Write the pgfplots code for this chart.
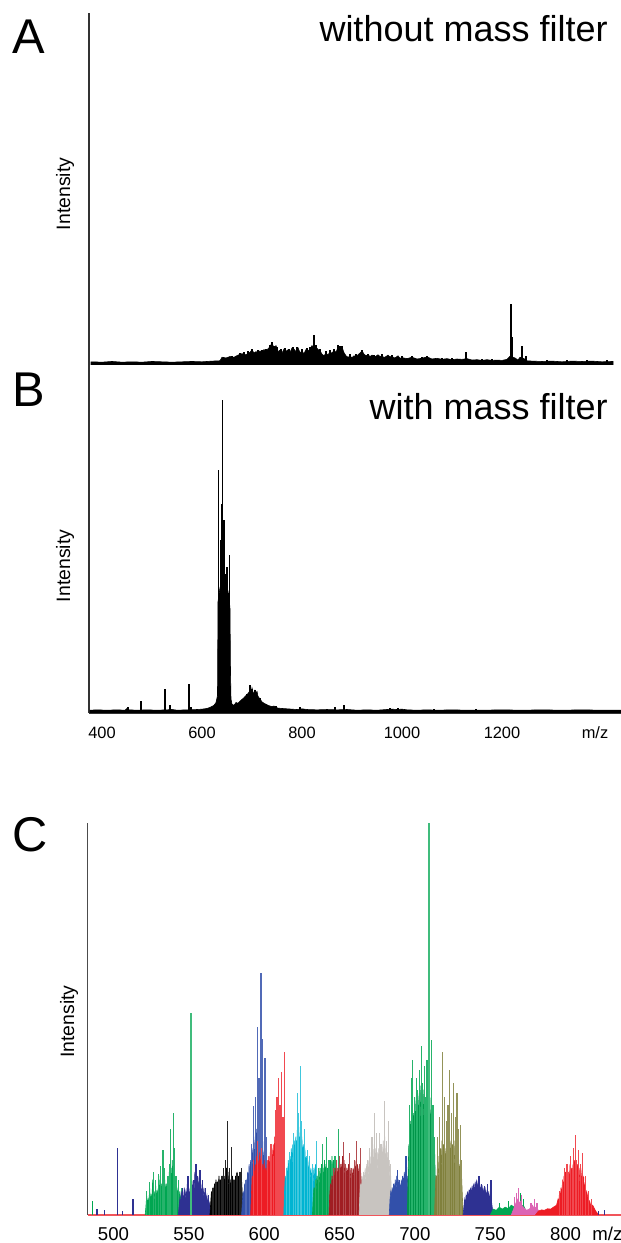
\documentclass[border=0pt]{standalone}
\usepackage{fontspec}
\setmainfont{Liberation Sans}
\usepackage{pgfplots}
\pgfplotsset{compat=1.18}
\definecolor{cnavy}{RGB}{46,49,146}
\definecolor{cblue}{RGB}{50,80,170}
\definecolor{cgreen}{RGB}{0,166,81}
\definecolor{cred}{RGB}{237,28,36}
\definecolor{ccyan}{RGB}{0,180,210}
\definecolor{cdred}{RGB}{160,30,35}
\definecolor{cgray}{RGB}{200,196,192}
\definecolor{colive}{RGB}{128,128,60}
\definecolor{cpink}{RGB}{220,100,180}
\pgfplotsset{
  spk/.style={ycomb, mark=none, line width=0.6pt},
  env/.style={mark=none, line width=0.3pt},
}
\begin{document}
\begin{tikzpicture}
\path[use as bounding box] (0,0) rectangle (310.5pt,621.5pt);
% ---------------- Panel A ----------------
\begin{axis}[at={(44.5pt,439pt)}, anchor=south west, scale only axis,
  width=266pt, height=176pt, xmin=374, xmax=1438, ymin=0, ymax=100,
  axis x line=none, axis y line=left,
  axis line style={-, line width=0.7pt, black!80},
  xtick=\empty, ytick=\empty, clip=true]
\addplot[env, fill=black, draw=black] coordinates {
(378,0.9)(400,0.8)(420,1.0)(440,0.8)(460,0.9)(480,0.8)(500,1.0)(520,0.9)(540,0.8)(560,0.9)(580,1.0)(600,0.9)(620,1.1)(636,1.2)
(640,2.2)(648,2.0)(656,2.4)(664,2.2)(672,2.8)(680,3.2)(688,2.9)(696,3.6)(700,4.3)(704,3.4)(708,3.8)(712,3.2)(716,4.0)(720,3.6)
(724,4.4)(728,3.8)(732,4.6)(736,5.2)(740,6.3)(744,4.8)(748,5.5)(752,3.8)(756,4.2)(760,3.4)(764,4.5)(768,3.9)(772,4.3)(776,3.6)
(780,4.8)(784,4.5)(788,3.8)(792,4.9)(796,3.5)(800,3.9)(804,3.2)(808,4.4)(812,3.9)(816,4.6)(820,5.5)(824,4.8)(828,5.1)(832,4.4)
(836,4.0)(840,3.1)(844,2.6)(848,3.4)(852,2.8)(856,3.8)(860,3.3)(864,4.2)(868,3.6)(872,5.0)(876,4.6)(880,5.1)(884,3.5)(888,2.6)
(892,2.2)(896,2.5)(900,2.1)(904,2.6)(908,2.3)(912,2.9)(916,3.4)(920,4.0)(924,3.1)(928,2.6)(932,2.9)(936,2.4)(940,2.8)(944,2.2)
(948,2.5)(952,2.9)(956,2.4)(960,2.6)(964,2.1)(968,2.4)(972,2.8)(976,2.3)(980,2.5)(984,2.0)(988,2.2)(992,2.6)(996,1.9)(1000,2.1)
(1010,1.8)(1020,2.2)(1030,1.7)(1040,1.9)(1050,2.3)(1060,1.7)(1070,1.9)(1080,1.6)(1090,1.8)(1100,1.5)(1110,1.7)(1120,1.6)(1130,1.8)
(1140,1.4)(1150,1.5)(1160,1.3)(1170,1.5)(1180,1.3)(1190,1.4)(1200,1.3)(1210,1.6)(1216,2.5)(1226,2.0)(1232,1.4)(1236,2.2)(1244,1.8)
(1250,1.2)(1260,1.1)(1280,1.0)(1300,1.1)(1320,0.9)(1340,1.1)(1360,1.0)(1380,1.1)(1400,0.9)(1422,1.0)} \closedcycle;
\addplot[spk, black] coordinates {
(1218,17.3)(1220,8)(1240,5.4)(1248,2.6)(1128,3.7)(824,8.5)(740,6.5)(744,5.5)(782,5.2)(828,5.6)(872,5.6)(876,5.3)(700,4.6)(920,4.3)(1050,2.6)
(660,2.6)(676,3.4)(684,3.8)(692,4.0)(712,4.2)(720,4.4)(728,4.6)(736,5.6)(750,5.0)(758,4.6)(766,4.8)(774,4.5)(790,5.0)(800,4.6)
(810,4.8)(816,5.0)(836,4.6)(848,4.0)(856,4.4)(864,4.6)(880,5.5)(896,3.0)(908,3.0)(932,3.2)(944,2.8)(960,3.0)(980,2.8)(1000,2.5)
(1020,2.6)(1040,2.3)(1080,2.1)(1100,2.0)(1160,1.8)(1180,1.7)(1290,1.4)(1330,1.5)(1370,1.4)(1410,1.3)};
\end{axis}
% ---------------- Panel B ----------------
\begin{axis}[at={(44.5pt,265pt)}, anchor=south west, scale only axis,
  width=266pt, height=174pt, xmin=374, xmax=1438, ymin=0, ymax=100,
  axis x line=bottom, axis y line=left,
  axis line style={-, line width=0.7pt, black!80},
  ytick=\empty, major tick length=0pt,
  xtick={400,600,800,1000,1200,1386},
  xticklabels={400,600,800,1000,1200,m/z},
  xticklabel style={font=\fontsize{8.2}{10}\selectfont, anchor=base, yshift=-13pt},
  clip=true]
\addplot[env, fill=black, draw=black] coordinates {
(376,0.8)(390,0.9)(410,0.8)(430,0.9)(446,0.8)(450,1.3)(454,0.9)(470,0.8)(490,0.9)(510,0.8)(530,0.9)(540,1.0)(550,0.8)(570,0.9)
(590,1.0)(600,1.1)(610,1.3)(616,1.6)(620,1.9)(624,2.2)(628,3.0)(631,5)(632,32)(634,34)(636,36)(638,37)(640,38)(642,38)(644,38)
(646,37)(648,37)(650,36)(652,35)(654,33)(656,30)(657,11.5)(658,4)(660,2.5)(664,2.2)(668,3)(672,2.8)(676,3.4)(680,3.9)(684,4.4)
(688,5.0)(692,5.6)(694,6.0)(696,6.4)(698,5.5)(700,7.2)(702,6.0)(704,5.6)(706,6.5)(708,5.8)(710,6.2)(712,4.8)(716,4.0)(720,3.2)
(724,2.8)(728,2.5)(732,2.2)(736,2.0)(740,1.8)(744,2.0)(748,1.6)(752,1.4)(760,1.3)(770,1.2)(780,1.1)(790,1.0)(800,1.2)(810,1.0)
(830,0.9)(850,1.0)(870,0.9)(890,1.0)(910,0.8)(930,0.9)(950,0.8)(970,1.0)(980,1.1)(990,1.0)(1000,1.1)(1010,0.9)(1030,0.8)(1050,0.9)
(1070,0.8)(1100,0.9)(1130,0.8)(1160,0.8)(1200,0.9)(1240,0.8)(1280,0.9)(1320,0.8)(1360,0.9)(1400,0.8)(1438,0.8)} \closedcycle;
\addplot[spk, black] coordinates {
(452,1.8)(478,3.5)(526,7)(536,2.2)(574,8.4)(578,1.6)(633.3,69.8)(637.3,49.7)(639.3,60)(641.3,90)(644,55.5)(648,40)(650,42)
(653,34.5)(655.3,45.4)(690,5.5)(696,8)(700,6.8)(706,6.6)(716,4.2)(748,2.0)(796,1.8)(866,1.6)(884,2.3)(976,1.4)(992,1.4)(1064,1.1)(1148,1.1)};
\end{axis}
% ---------------- Panel C ----------------
\begin{axis}[at={(43.75pt,14pt)}, anchor=south west, scale only axis,
  width=266.75pt, height=196pt, xmin=482.75, xmax=836.8, ymin=0, ymax=100,
  axis x line=bottom, axis y line=left,
  x axis line style={-, line width=1pt, cred!75},
  y axis line style={-, line width=0.7pt, black!70},
  ytick=\empty, major tick length=0pt,
  xtick={500,550,600,650,700,750,800,827.8},
  xticklabels={500,550,600,650,700,750,800,m/z},
  xticklabel style={font=\fontsize{9.3}{11}\selectfont, anchor=base, yshift=-12.9pt},
  clip=true]
% near 500
\addplot[spk, cnavy] coordinates {(489,1.5)(494,1.2)(502.6,17)(506,1)(513,4)};
\addplot[spk, cgreen] coordinates {(486,3.5)};
% green 1
\addplot[env, fill=cgreen, draw=cgreen] coordinates {(521,0)(521.5,2)(522,5)(522.5,2.5)(523,4)(523.5,3)(524,7)(524.5,3.5)(525,5)(525.5,4)(526,9)(526.5,4)(527,6)(527.5,3.5)(528,7.5)(528.5,4)(529,6)(529.5,5)(530,9)(530.5,5)(531,10)(531.5,5.5)(532,8)(532.5,6)(533,12)(533.5,6)(534,9)(534.5,5)(535,8)(535.5,6)(536,9)(536.5,6)(537,11)(537.5,7)(538,12)(538.5,7)(539,14)(539.5,8)(540,11)(540.5,6)(541,8)(541.5,5)(542,7)(542.5,4.5)(543,7)(543.5,4)(544,6)(544.5,3.5)(545,5)(546,3)(546.5,4)(547,2.5)(548,3)(549,0)} \closedcycle;
\addplot[spk, cgreen!85] coordinates {(522,6)(524,8.5)(526.4,11)(528,9)(530,10.5)(531,12.5)(532.8,16.6)(534,12)(536.2,10)(537,13)(538,22)(539.7,26)(540.5,17)(541.5,10)(543,9)(545,7)(547,6)};
% navy 1
\addplot[env, fill=cnavy, draw=cnavy] coordinates {(543,0)(543.5,2)(544,4)(544.5,3)(545,6)(545.5,3.5)(546,5)(546.5,4)(547,7)(547.5,4)(548,6)(548.5,5)(549,8)(549.5,4.5)(550,7)(550.5,5)(551,6)(551.5,5)(552,9)(552.5,6)(553,8)(553.5,6)(554,11)(554.5,6)(555,9)(555.5,6.5)(556,10)(556.5,6)(557,9)(557.5,5.5)(558,8)(558.5,5)(559,7)(559.5,4.5)(560,7)(560.5,4)(561,6)(561.5,3.5)(562,5)(562.5,3)(563,4)(564,2.5)(565,0)} \closedcycle;
\addplot[spk, cnavy] coordinates {(546,7)(549.4,10)(551.3,33)(553,9)(554.7,13)(556,10)(557.4,11.5)(559,9)(561,7)(563,5)};
\addplot[ycomb, mark=none, line width=0.9pt, cgreen!75] coordinates {(551.6,51.5)};
% black
\addplot[env, fill=black, draw=black] coordinates {(564,0)(564.5,3)(565,6)(565.5,4)(566,7)(566.5,5)(567,8)(567.5,6)(568,9)(568.5,6)(569,8.5)(569.5,6.5)(570,10)(570.5,7)(571,9)(571.5,6.5)(572,10)(572.5,7)(573,11)(573.5,7)(574,10)(574.5,7.5)(575,12)(575.5,7)(576,11)(576.5,7)(577,10)(577.5,6.5)(578,9)(578.5,7)(579,10)(579.5,6.5)(580,9)(580.5,7)(581,10)(581.5,7.5)(582,11)(582.5,7)(583,10)(583.5,8)(584,11)(584.5,7)(585,9)(585.5,5)(586,0)} \closedcycle;
\addplot[spk, black!85] coordinates {(566,7)(568,8.5)(570,9)(572,10)(573.2,12)(574.5,14)(575.9,24)(577,12)(578.5,17.4)(580,9)(582,10.6)(584,11)(585,12)};
% royal blue
\addplot[env, fill=cblue, draw=cblue] coordinates {(585,0)(585.5,3)(586,6)(586.5,4)(587,8)(587.5,5)(588,9)(588.5,7)(589,11)(589.5,8)(590,13)(590.5,9)(591,14)(591.5,11)(592,17)(592.5,12)(593,19)(593.5,13)(594,20)(594.5,14)(595,22)(595.5,15)(596,24)(596.5,16)(597,22)(597.5,15)(598,21)(598.5,14)(599,19)(599.5,12)(600,16)(600.5,10)(601,12)(601.5,7)(602,8)(602.5,4)(603,0)} \closedcycle;
\addplot[spk, cblue!85] coordinates {(588,9)(590,12)(591.5,18)(593,27.7)(594.5,30)(595.7,48)(596.6,35)(597.9,61.7)(599,45)(600.5,40)(601.5,20)};
% red 1
\addplot[env, fill=cred, draw=cred] coordinates {(591,0)(591.5,5)(592,10)(592.5,8)(593,12)(593.5,9)(594,13)(594.5,10)(595,15)(595.5,11)(596,14)(596.5,10)(597,16)(597.5,11)(598,15)(598.5,10)(599,13)(599.5,9)(600,14)(600.5,10)(601,12)(601.5,9)(602,14)(602.5,10)(603,15)(603.5,11)(604,16)(604.5,12)(605,17)(605.5,12)(606,18)(606.5,13)(607,20)(607.5,14)(608,22)(608.5,15)(609,24)(609.5,16)(610,25)(610.5,17)(611,23)(611.5,16)(612,21)(612.5,14)(613,18)(613.5,10)(614,0)} \closedcycle;
\addplot[spk, cred!80] coordinates {(593,14)(595.7,19)(598,17)(602,13)(604.5,18)(606,15)(607.6,26.8)(608.5,30)(609.7,35)(610.5,28)(611.6,36.6)(612.5,25)(613.5,41.7)};
% cyan
\addplot[env, fill=ccyan, draw=ccyan] coordinates {(613,0)(613.5,6)(614,10)(614.5,8)(615,12)(615.5,9)(616,14)(616.5,10)(617,15)(617.5,11)(618,17)(618.5,12)(619,18)(619.5,13)(620,19)(620.5,13)(621,20)(621.5,14)(622,22)(622.5,15)(623,21)(623.5,15)(624,23)(624.5,15)(625,20)(625.5,14)(626,18)(626.5,13)(627,17)(627.5,12)(628,15)(628.5,11)(629,14)(629.5,10)(630,13)(630.5,9)(631,12)(631.5,9)(632,11)(632.5,8)(633,12)(633.5,8)(634,13)(634.5,8)(635,10)(636,0)} \closedcycle;
\addplot[spk, ccyan!75] coordinates {(615,12)(617,16)(619.5,21)(621,19)(622.2,31)(623,26)(624.3,38)(625,24)(626.5,22)(628.8,16.6)(630,15)(632,13)(634.9,19)};
% green 2
\addplot[env, fill=cgreen, draw=cgreen] coordinates {(632,0)(632.5,4)(633,7)(633.5,5)(634,9)(634.5,6)(635,10)(635.5,7)(636,11)(636.5,7.5)(637,12)(637.5,8)(638,13)(638.5,8)(639,12)(639.5,8.5)(640,14)(640.5,9)(641,13)(641.5,9)(642,12)(642.5,9)(643,13)(643.5,9.5)(644,14)(644.5,10)(645,15)(645.5,10)(646,14)(646.5,10)(647,13)(647.5,9)(648,12)(648.5,8)(649,11)(649.5,8)(650,9)(651,0)} \closedcycle;
\addplot[spk, cgreen!85] coordinates {(634,9)(636,12)(638.6,18)(641.2,20)(643,14)(645,13)(647,15)(649.4,22)(650.5,12)};
% dark red
\addplot[env, fill=cdred, draw=cdred] coordinates {(643,0)(643.5,5)(644,8)(644.5,6)(645,10)(645.5,7)(646,11)(646.5,8)(647,12)(647.5,9)(648,13)(648.5,9)(649,12)(649.5,10)(650,14)(650.5,10)(651,13)(651.5,10)(652,15)(652.5,11)(653,14)(653.5,10)(654,13)(654.5,9.5)(655,12)(655.5,9)(656,13)(656.5,9.5)(657,12)(657.5,9)(658,11)(658.5,9)(659,12)(659.5,9.5)(660,13)(660.5,10)(661,14)(661.5,10)(662,13)(662.5,9)(663,12)(663.5,8)(664,11)(665,6)(666,0)} \closedcycle;
\addplot[spk, cdred!80] coordinates {(646,12)(648,14)(650,15)(652.6,18.7)(654,13)(656.6,15.7)(658,12)(660,14)(661.3,19)(663,13)(664,17)};
% gray
\addplot[env, fill=cgray, draw=cgray] coordinates {(663,0)(663.5,5)(664,8)(664.5,6)(665,10)(665.5,7)(666,11)(666.5,8)(667,12)(667.5,8.5)(668,13)(668.5,9)(669,14)(669.5,9.5)(670,15)(670.5,10)(671,16)(671.5,10)(672,17)(672.5,11)(673,18)(673.5,11)(674,17)(674.5,11)(675,16)(675.5,10.5)(676,17)(676.5,11)(677,16)(677.5,11)(678,18)(678.5,12)(679,19)(679.5,12)(680,20)(680.5,12)(681,17)(681.5,11)(682,16)(682.5,10)(683,14)(683.5,8)(684,10)(685,0)} \closedcycle;
\addplot[spk, cgray] coordinates {(666,11)(668.5,14)(670,17)(671.5,20)(673,26)(674.5,21)(676.4,21)(677.5,18)(679.8,29)(681,19)(682.5,24)(684,13)};
% navy 2
\addplot[env, fill=cblue, draw=cblue] coordinates {(683,0)(683.5,4)(684,6)(684.5,5)(685,7)(685.5,5)(686,8)(686.5,6)(687,9)(687.5,6)(688,10)(688.5,6.5)(689,9)(689.5,6)(690,8)(690.5,6)(691,9)(691.5,7)(692,10)(692.5,7)(693,11)(693.5,8)(694,12)(694.5,8)(695,10)(696,0)} \closedcycle;
\addplot[spk, cblue] coordinates {(686,8)(688.3,11.5)(690,9)(692,10)(694.1,15)};
% green 3
\addplot[env, fill=cgreen!90!black, draw=cgreen!90!black] coordinates {(695,0)(695.5,10)(696,18)(696.5,14)(697,24)(697.5,18)(698,28)(698.5,20)(699,26)(699.5,21)(700,30)(700.5,22)(701,29)(701.5,23)(702,31)(702.5,24)(703,30)(703.5,24)(704,33)(704.5,25)(705,31)(705.5,24)(706,32)(706.5,25)(707,30)(707.5,24)(708,31)(708.5,23)(709,29)(709.5,22)(710,30)(710.5,21)(711,27)(711.5,19)(712,24)(712.5,16)(713,18)(713.5,10)(714,0)} \closedcycle;
\addplot[spk, cgreen!85] coordinates {(696.5,28)(697.5,35)(698.4,39.6)(699.5,30)(701,35)(702,32)(703,37)(704.2,43)(705,33.6)(706.3,38)(707,30)(708.1,39.6)(710.8,44.7)(712,28)(713,20)};
\addplot[ycomb, mark=none, line width=0.9pt, cgreen!75] coordinates {(709.5,100)};
% olive
\addplot[env, fill=colive, draw=colive] coordinates {(713,0)(713.5,6)(714,10)(714.5,8)(715,13)(715.5,9)(716,15)(716.5,10)(717,17)(717.5,11)(718,19)(718.5,12)(719,18)(719.5,12)(720,17)(720.5,12)(721,18)(721.5,13)(722,19)(722.5,13)(723,20)(723.5,13)(724,19)(724.5,13)(725,18)(725.5,12)(726,19)(726.5,12)(727,17)(727.5,11)(728,16)(728.5,11)(729,15)(729.5,10)(730,13)(730.5,9)(731,10)(732,0)} \closedcycle;
\addplot[spk, colive!85] coordinates {(715,20)(716.5,25)(718.2,41.7)(719.5,30)(721,24)(722,28)(723.2,37)(724.5,26)(725.9,33.6)(727,25)(728,31)(729,22)(730.1,23)(731,14)};
% navy 3
\addplot[env, fill=cnavy, draw=cnavy] coordinates {(732,0)(732.5,2)(733,4)(733.5,3)(734,5)(734.5,3.5)(735,6)(735.5,4)(736,6.5)(736.5,4.5)(737,7)(737.5,5)(738,7.5)(738.5,5)(739,8)(739.5,5.5)(740,8.5)(740.5,6)(741,9)(741.5,6)(742,8.5)(742.5,6)(743,8)(743.5,5.5)(744,7.5)(744.5,5.5)(745,7)(745.5,5)(746,7)(746.5,5)(747,6.5)(747.5,4.5)(748,6)(748.5,4)(749,6)(749.5,4)(750,5)(751,3)(752,0)} \closedcycle;
\addplot[spk, cnavy] coordinates {(734,5)(736,6.5)(738,7)(740,8)(742.5,10)(744,8)(746,7.5)(748,8)(750.5,9)};
% green small
\addplot[env, fill=cgreen, draw=cgreen] coordinates {(750,0)(752,1.5)(754,1.2)(756,2)(758,1.5)(760,2)(762,1.6)(764,2.5)(766,2)(768,3)(770,2.2)(772,2.5)(775,0)} \closedcycle;
\addplot[spk, cgreen] coordinates {(756,3)(762,3.5)(770,5.5)(772,4)};
% pink
\addplot[env, fill=cpink, draw=cpink] coordinates {(764,0)(766,2)(767,3)(768,4)(769,3)(770,3.5)(771,2.5)(772,2)(774,1.2)(776,1.5)(778,2.5)(779,1.8)(780,2)(782,1.2)(784,0)} \closedcycle;
\addplot[spk, cpink] coordinates {(766,4.5)(767.5,5.5)(769,6.8)(771,5)(777,3)(779.6,4)(781,3)};
% red 2
\addplot[env, fill=cred, draw=cred] coordinates {(780,0)(782,1)(784,1.3)(786,1.2)(788,1.6)(790,1.5)(792,2)(794,2.5)(795,4)(795.5,3)(796,6)(796.5,4)(797,7)(797.5,5)(798,9)(798.5,6)(799,10)(799.5,7)(800,11)(800.5,8)(801,12)(801.5,8)(802,11)(802.5,8.5)(803,13)(803.5,9)(804,12)(804.5,9)(805,13)(805.5,9.5)(806,14)(806.5,9)(807,12)(807.5,9)(808,13)(808.5,8.5)(809,12)(809.5,8)(810,11)(810.5,7.5)(811,12)(811.5,7)(812,10)(812.5,6)(813,8)(813.5,5)(814,6)(815,4)(816,3.5)(817,2)(818,2.5)(820,1)(822,0)} \closedcycle;
\addplot[spk, cred!80] coordinates {(796,6)(798,9)(799.5,12)(801,13)(802,11)(803.4,15)(804.5,12)(805.5,17)(806.5,20.4)(807.5,14)(808.6,16.6)(810,13)(811.3,15.7)(813,10)(815,6)(817,4)};
\addplot[spk, cnavy] coordinates {(822,1)(826,1.2)};
\end{axis}
% ---------------- Text ----------------
\node[anchor=base, font=\fontsize{24.4}{28}\selectfont, inner sep=0] at (14.5pt,594.5pt) {A};
\node[anchor=base, font=\fontsize{24.4}{28}\selectfont, inner sep=0] at (14.5pt,418.2pt) {B};
\node[anchor=base, font=\fontsize{24.4}{28}\selectfont, inner sep=0] at (15pt,195.6pt) {C};
\node[anchor=base east, font=\fontsize{18}{21}\selectfont, inner sep=0] at (304pt,600.6pt) {without mass filter};
\node[anchor=base east, font=\fontsize{18}{21}\selectfont, inner sep=0] at (304pt,411.5pt) {with mass filter};
\node[rotate=90, font=\fontsize{9.7}{11}\selectfont, inner sep=0] at (32.5pt,524.5pt) {Intensity};
\node[rotate=90, font=\fontsize{9.7}{11}\selectfont, inner sep=0] at (32.5pt,338.5pt) {Intensity};
\node[rotate=90, font=\fontsize{9.7}{11}\selectfont, inner sep=0] at (34.5pt,110.75pt) {Intensity};
\end{tikzpicture}
\end{document}
